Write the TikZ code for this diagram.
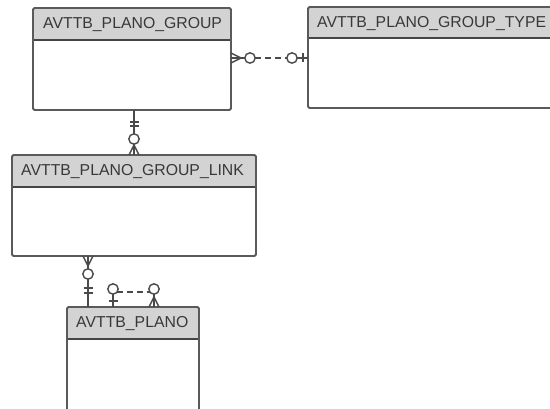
\documentclass[tikz,border=0pt]{standalone}
\usepackage{fontspec}
\setmainfont{Liberation Sans}
\usetikzlibrary{calc}
\definecolor{bordc}{HTML}{5A5A5A}
\definecolor{sepc}{HTML}{454545}
\definecolor{hdrc}{HTML}{D3D3D3}
\definecolor{linec}{HTML}{4A4A4A}
\definecolor{txtc}{HTML}{383838}
\tikzset{
  entity/.style={anchor=north west, inner sep=0pt, outer sep=0pt, draw=none, fill=white},
  header/.style={fill=hdrc},
  border/.style={draw=bordc, line width=1.8pt, rounded corners=1.5pt},
  sepline/.style={draw=sepc, line width=2.4pt},
  title/.style={anchor=base west, inner sep=0pt, text=txtc, font=\fontsize{15.8}{18}\selectfont},
  rel/.style={draw=linec, line width=1.4pt},
  reldash/.style={rel, dash pattern=on 6pt off 4pt},
  ringst/.style={draw=linec, line width=1.4pt, fill=white},
  crow/.pic={\draw[rel] (0,-5) -- (10,0) -- (0,5) (0,0) -- (10,0);},
  onebar/.pic={\draw[rel] (0,-4.5) -- (0,4.5);},
  ring/.pic={\draw[ringst] (0,0) circle[radius=5.2];},
}
\begin{document}
\begin{tikzpicture}[x=1pt,y=-1pt]
\useasboundingbox (0,0) rectangle (550,409);
\clip (0,0) rectangle (550,409);
% entities
\node[entity, minimum width=198pt, minimum height=102pt] (g) at (33,8) {};
\node[entity, minimum width=260pt, minimum height=101pt] (t) at (308,7) {};
\node[entity, minimum width=244pt, minimum height=101pt] (l) at (12,155) {};
\node[entity, minimum width=132pt, minimum height=110pt] (p) at (67,307) {};
\foreach \e/\h in {g/32,t/31,l/32,p/32}{
  \fill[header] (\e.north west) rectangle ($(\e.north east)+(0,\h)$);
  \draw[sepline] ($(\e.north west)+(0,\h)$) -- ($(\e.north east)+(0,\h)$);
  \draw[border] (\e.north west) rectangle (\e.south east);
}
\node[title] (gt) at ($(g.north west)+(10,21)$) {AVTTB\_PLANO\_GROUP};
\node[title] (tt) at ($(t.north west)+(9,21)$) {AVTTB\_PLANO\_GROUP\_TYPE};
\node[title] (lt) at ($(l.north west)+(9,21)$) {AVTTB\_PLANO\_GROUP\_LINK};
\node[title] (pt) at ($(p.north west)+(9,21)$) {AVTTB\_PLANO};
% GROUP -- GROUP_TYPE
\coordinate (gt1) at ($(g.north east)+(0,50)$);
\coordinate (gt2) at (t.west |- gt1);
\draw[rel] (gt1) -- ($(gt1)+(19,0)$);
\draw[reldash] ($(gt1)+(24,0)$) -- ($(gt2)+(-21,0)$);
\draw[rel] ($(gt2)+(-16,0)$) -- (gt2);
\pic at (gt1) {crow};
\pic at ($(gt1)+(19,0)$) {ring};
\pic at ($(gt2)+(-16,0)$) {ring};
\pic at ($(gt2)+(-5,0)$) {onebar};
% GROUP -- GROUP_LINK
\coordinate (gl2) at (l.north);
\coordinate (gl1) at (g.south -| gl2);
\draw[rel] (gl1) -- (gl2);
\pic[rotate=90] at ($(gl1)+(0,12)$) {onebar};
\pic[rotate=90] at ($(gl1)+(0,16)$) {onebar};
\pic at ($(gl2)+(0,-16)$) {ring};
\pic[rotate=90] at (gl2) {crow};
% GROUP_LINK -- PLANO
\coordinate (lp2) at ($(p.north west)+(21,0)$);
\coordinate (lp1) at (l.south -| lp2);
\draw[rel] (lp1) -- (lp2);
\pic[rotate=-90] at (lp1) {crow};
\pic at ($(lp1)+(0,18)$) {ring};
\pic[rotate=90] at ($(lp2)+(0,-14)$) {onebar};
\pic[rotate=90] at ($(lp2)+(0,-19)$) {onebar};
% PLANO self relation
\coordinate (s1) at ($(p.north west)+(46,0)$);
\coordinate (s2) at ($(p.north west)+(87,0)$);
\draw[rel] (s1) -- ($(s1)+(0,-18)$);
\draw[rel] (s2) -- ($(s2)+(0,-18)$);
\draw[reldash] ($(s1)+(4,-15)$) -- ($(s2)+(-4,-15)$);
\pic[rotate=90] at ($(s1)+(0,-6)$) {onebar};
\pic at ($(s1)+(0,-18)$) {ring};
\pic at ($(s2)+(0,-18)$) {ring};
\pic[rotate=90] at (s2) {crow};
\end{tikzpicture}
\end{document}
